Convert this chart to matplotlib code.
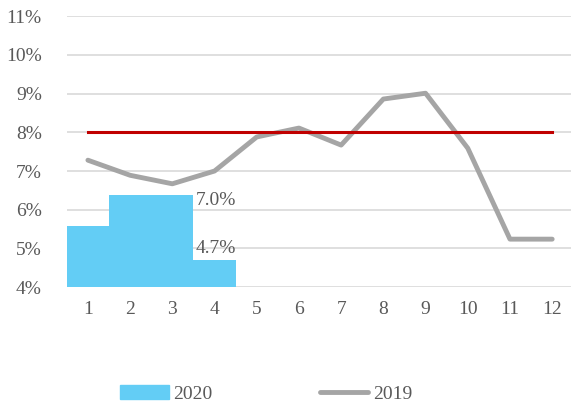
import matplotlib
matplotlib.use('Agg')
import matplotlib.pyplot as plt
from matplotlib.patches import Patch
from matplotlib.lines import Line2D

months = list(range(1, 13))
vals2019 = [7.28, 6.89, 6.67, 7.0, 7.88, 8.11, 7.67, 8.86, 9.01, 7.59, 5.24, 5.24]
months2020 = [1, 2, 3, 4]
vals2020 = [5.58, 6.38, 6.38, 4.70]
target = 8.0
labels2020 = ['7.0%', '4.7%']
label_y = [6.25, 5.0]
yticks = [4, 5, 6, 7, 8, 9, 10, 11]

plt.rcParams['font.family'] = ['Liberation Serif', 'DejaVu Serif']
tc = '#595959'

fg = plt.figure(figsize=(5.71, 4.05), dpi=100)
ax = fg.add_axes([0.117, 0.291, 0.887, 0.669])

ax.bar(months2020, vals2020, width=1.0, color='#63CDF5', zorder=2)
ax.plot(months, vals2019, color='#A5A5A5', lw=3.5, solid_capstyle='round', zorder=3)
ax.plot([months[0], months[-1]], [target, target], color='#C00000', lw=2.2, zorder=4)

# data labels sit just right of the third bar
for txt, y in zip(labels2020, label_y):
    ax.text(3.55, y, txt, fontsize=14, color=tc, va='center', ha='left', zorder=5)

ax.set_xlim(0.5, 12.5)
ax.set_ylim(4, 11)
ax.set_yticks(yticks)
ax.set_yticklabels(['%d%%' % v for v in yticks])
ax.set_xticks(months)
ax.set_xticklabels([str(m) for m in months])
ax.grid(axis='y', color='#D9D9D9', lw=1.2, zorder=0)
ax.set_axisbelow(True)
for s in ax.spines.values():
    s.set_visible(False)
ax.tick_params(length=0, labelsize=14, colors=tc)
ax.tick_params(axis='y', pad=18)
ax.tick_params(axis='x', pad=10)

handles = [Patch(color='#63CDF5', label='2020'),
           Line2D([], [], color='#A5A5A5', lw=3.5, solid_capstyle='round', label='2019')]
leg = fg.legend(handles=handles, loc='center', bbox_to_anchor=(0.466, 0.027), ncol=2,
                frameon=False, fontsize=14, handlelength=2.5, handleheight=0.7,
                handletextpad=0.25, columnspacing=5.5)
for t in leg.get_texts():
    t.set_color(tc)

fg.savefig('out.png', dpi=100)
